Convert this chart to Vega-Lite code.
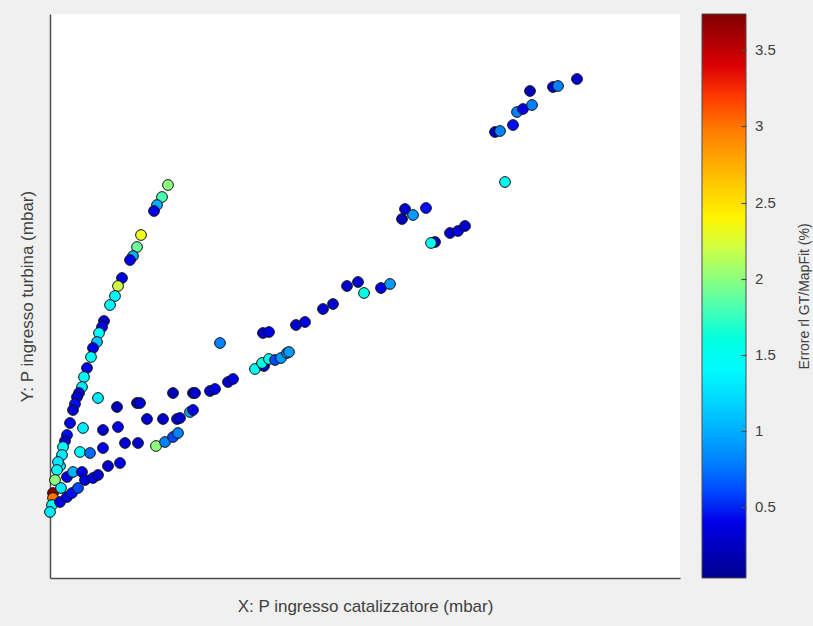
{
  "$schema": "https://vega.github.io/schema/vega-lite/v6.json",
  "autosize": "none",
  "width": 630,
  "height": 564,
  "padding": {"left": 50, "top": 14, "right": 133, "bottom": 48},
  "background": "#f0f0f0",
  "config": {
    "view": {"fill": "white", "stroke": null},
    "axis": {"labels": false, "ticks": false, "grid": false, "domainColor": "#4d4d4d", "domainWidth": 1.5, "titleFont": "Liberation Sans", "titleFontSize": 17, "titleFontWeight": "normal", "titleColor": "#404040"},
    "legend": {"labelFont": "Liberation Sans", "titleFont": "Liberation Sans"}
  },
  "data": {"values": [
    {"x":118,"y":393,"e":2.0},{"x":112,"y":381,"e":1.8},{"x":107,"y":373,"e":1.0},{"x":104,"y":367,"e":0.4},
    {"x":91,"y":343,"e":2.3},{"x":87,"y":331,"e":1.9},{"x":83,"y":322,"e":1.0},{"x":80,"y":318,"e":0.4},
    {"x":72,"y":300,"e":0.4},{"x":68,"y":292,"e":2.2},{"x":65,"y":282,"e":1.4},{"x":60,"y":273,"e":1.4},
    {"x":54,"y":257,"e":0.3},{"x":52,"y":251,"e":0.4},{"x":49,"y":245,"e":1.4},{"x":47,"y":236,"e":1.1},
    {"x":43,"y":230,"e":0.4},{"x":41,"y":221,"e":1.5},{"x":37,"y":210,"e":0.4},{"x":34,"y":201,"e":1.4},
    {"x":32,"y":191,"e":1.3},{"x":29,"y":185,"e":0.4},{"x":27,"y":181,"e":0.3},{"x":25,"y":174,"e":0.5},
    {"x":23,"y":168,"e":0.3},{"x":20,"y":155,"e":0.4},{"x":17,"y":143,"e":0.5},{"x":15,"y":137,"e":0.3},
    {"x":13,"y":131,"e":1.4},{"x":12,"y":123,"e":1.3},{"x":10,"y":112,"e":1.3},{"x":8,"y":116,"e":1.3},
    {"x":7,"y":108,"e":1.4},{"x":5,"y":98,"e":2.0},{"x":3,"y":85,"e":3.7},{"x":3,"y":80,"e":3.0},
    {"x":2,"y":73,"e":1.4},{"x":0,"y":66,"e":1.3},
    {"x":11,"y":90,"e":1.3},{"x":10,"y":76,"e":0.4},{"x":17,"y":81,"e":0.4},{"x":22,"y":85,"e":0.5},
    {"x":28,"y":90,"e":0.6},{"x":17,"y":101,"e":0.4},{"x":23,"y":106,"e":1.0},{"x":32,"y":106,"e":0.4},
    {"x":35,"y":98,"e":0.4},{"x":43,"y":100,"e":0.4},{"x":48,"y":103,"e":0.3},{"x":58,"y":112,"e":0.3},
    {"x":70,"y":115,"e":0.4},{"x":30,"y":126,"e":1.4},{"x":40,"y":125,"e":0.7},{"x":53,"y":130,"e":0.4},
    {"x":33,"y":150,"e":1.3},{"x":53,"y":148,"e":0.3},{"x":68,"y":151,"e":0.4},{"x":75,"y":135,"e":0.3},
    {"x":88,"y":135,"e":0.3},{"x":106,"y":132,"e":2.0},{"x":115,"y":136,"e":0.8},{"x":123,"y":141,"e":0.6},
    {"x":128,"y":145,"e":0.8},{"x":97,"y":159,"e":0.3},{"x":113,"y":159,"e":0.3},{"x":127,"y":159,"e":0.4},
    {"x":130,"y":160,"e":0.3},{"x":140,"y":166,"e":1.0},{"x":143,"y":168,"e":0.4},{"x":48,"y":180,"e":1.3},
    {"x":67,"y":171,"e":0.2},{"x":87,"y":175,"e":0.2},{"x":90,"y":175,"e":0.3},{"x":123,"y":185,"e":0.2},
    {"x":143,"y":185,"e":0.3},{"x":145,"y":185,"e":0.3},{"x":160,"y":187,"e":0.3},{"x":165,"y":189,"e":0.4},
    {"x":178,"y":196,"e":0.3},{"x":183,"y":199,"e":0.4},{"x":170,"y":235,"e":0.8},{"x":213,"y":245,"e":0.3},
    {"x":219,"y":246,"e":0.4},{"x":246,"y":253,"e":0.3},{"x":255,"y":256,"e":0.4},{"x":273,"y":269,"e":0.3},
    {"x":283,"y":274,"e":0.3},{"x":297,"y":292,"e":0.3},{"x":308,"y":296,"e":0.3},{"x":314,"y":285,"e":1.6},
    {"x":331,"y":290,"e":0.4},{"x":340,"y":294,"e":0.9},
    {"x":205,"y":209,"e":1.5},{"x":214,"y":212,"e":0.3},{"x":212,"y":215,"e":1.6},{"x":219,"y":219,"e":1.5},
    {"x":225,"y":218,"e":0.6},{"x":231,"y":220,"e":0.9},{"x":237,"y":225,"e":0.9},{"x":239,"y":226,"e":0.9},
    {"x":352,"y":359,"e":0.2},{"x":355,"y":369,"e":0.3},{"x":363,"y":363,"e":0.9},{"x":376,"y":370,"e":0.5},
    {"x":385,"y":336,"e":0.2},{"x":381,"y":335,"e":1.5},{"x":400,"y":345,"e":0.3},{"x":408,"y":347,"e":0.4},
    {"x":415,"y":352,"e":0.3},{"x":445,"y":446,"e":0.2},{"x":450,"y":447,"e":0.8},{"x":463,"y":453,"e":0.5},
    {"x":467,"y":466,"e":0.8},{"x":473,"y":469,"e":0.4},{"x":482,"y":473,"e":0.8},{"x":480,"y":487,"e":0.2},
    {"x":503,"y":491,"e":0.3},{"x":508,"y":492,"e":0.8},{"x":527,"y":499,"e":0.3},{"x":455,"y":396,"e":1.5}
  ]},
  "layer": [
    {
      "mark": {"type": "circle", "size": 115, "opacity": 1, "stroke": "#111111", "strokeWidth": 1},
      "encoding": {
        "x": {"field": "x", "type": "quantitative", "scale": {"domain": [0, 630], "nice": false, "zero": false}, "axis": {"title": "X: P ingresso catalizzatore (mbar)", "titlePadding": 20}},
        "y": {"field": "y", "type": "quantitative", "scale": {"domain": [0, 564], "nice": false, "zero": false}, "axis": {"title": "Y: P ingresso turbina (mbar)", "titlePadding": 14}},
        "color": {"field": "e", "type": "quantitative",
          "scale": {"type": "linear", "domain": [0.03, 0.494, 1.421, 2.349, 3.276, 3.74], "range": ["#00008f", "#0000ff", "#00ffff", "#ffff00", "#ff0000", "#800000"]},
          "legend": {"title": null, "orient": "none", "legendX": 652, "legendY": 0, "values": [0.5, 1, 1.5, 2, 2.5, 3, 3.5], "format": "~g", "gradientLength": 564, "gradientThickness": 44, "gradientStrokeColor": "#4d4d4d", "gradientStrokeWidth": 1, "padding": 0, "labelFontSize": 15, "labelColor": "#404040", "labelOffset": 9, "labelOverlap": false, "zindex": 0}
        }
      }
    },
    {
      "mark": {"type": "circle", "opacity": 0},
      "encoding": {
        "y": {"field": "e", "type": "quantitative", "scale": {"domain": [0.03, 3.74], "nice": false, "zero": false},
          "axis": {"orient": "right", "offset": 66, "zindex": 5, "domain": false, "ticks": true, "tickSize": -5, "tickColor": "#4d4d4d", "tickWidth": 1.2, "values": [0.5, 1, 1.5, 2, 2.5, 3, 3.5], "title": "Errore rl GT/MapFit (%)", "titleAngle": 270, "titleFontSize": 14, "titleX": 58, "titleY": 282, "titleAlign": "center", "titleBaseline": "middle"}}
      }
    }
  ],
  "resolve": {"axis": {"y": "independent"}, "scale": {"y": "independent"}}
}
